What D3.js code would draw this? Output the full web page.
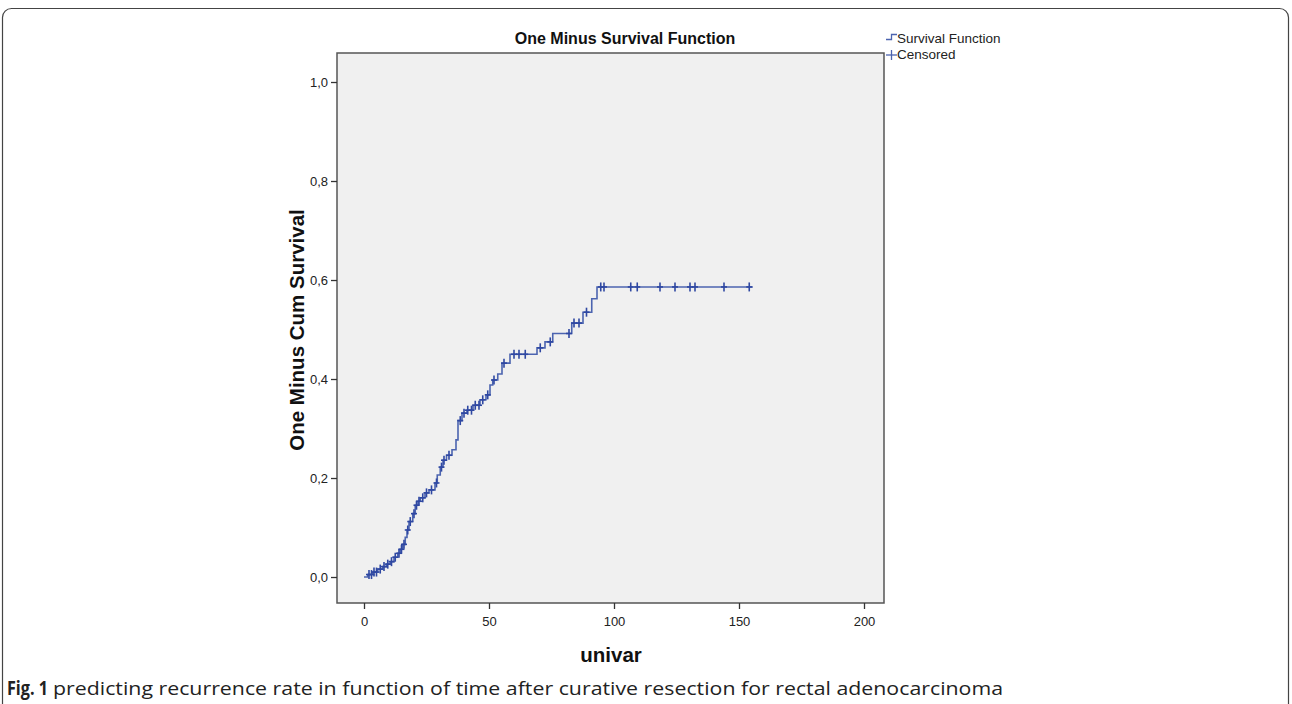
<!DOCTYPE html>
<html><head><meta charset="utf-8">
<script src="https://cdn.jsdelivr.net/npm/d3@7"></script>
<style>
body{margin:0;background:#fff;}
svg{display:block;}
</style></head>
<body>
<svg id="c" width="1292" height="704"></svg>
<script>
// ---- data ----
const stepTimes  = [0,1.5,3.5,5.5,7.5,9,10.5,12,13.5,14.5,15.5,16.5,17.2,18,19.5,20.5,21.6,22.5,24.4,26,28.4,29.3,30.5,31.6,33,35.2,36.8,37.6,39.2,41.2,43.6,46.4,48.8,50.4,51.5,53.5,55.2,58.4,69.2,72.4,75.5,83.1,87.6,91.1,93.2];
const stepValues = [0,0.005,0.010,0.016,0.021,0.026,0.031,0.040,0.048,0.056,0.066,0.080,0.095,0.112,0.128,0.145,0.153,0.160,0.170,0.176,0.190,0.206,0.222,0.236,0.246,0.257,0.277,0.316,0.331,0.337,0.347,0.358,0.368,0.388,0.398,0.410,0.432,0.450,0.463,0.475,0.492,0.513,0.535,0.562,0.586];
const lastTime = 155.5;
const censorTimes = [2,3,4,5,6.5,8,9.5,11,12.5,14,15,16,17.5,18.5,20,21,22,23.5,25,27,29,31,32,34,38.5,40,41.5,43,44.5,46,47.5,49.5,52,56,60,62,64.5,70.5,74.5,82,84,86,89,94.7,96,106.7,109.3,118.4,124.4,130.4,132.4,144,154.1];
const xTicks = [0,50,100,150,200];
const yTicks = [0,0.2,0.4,0.6,0.8,1.0];
const titleText = "One Minus Survival Function";
const xTitle = "univar";
const yTitle = "One Minus Cum Survival";
const legendLabels = ["Survival Function","Censored"];
const captionBold = "Fig. 1";
const captionText = "predicting recurrence rate in function of time after curative resection for rectal adenocarcinoma";

const svg = d3.select("#c");
const L=337,R=884,T=53,B=603;
const x = d3.scaleLinear().domain([-10.8,208]).range([L,R]);
const y = d3.scaleLinear().domain([-0.0525,1.0586]).range([B,T]);
const lineColor = "#4c64b0", markColor = "#2f48a2";
const font = "'Liberation Sans', Arial, sans-serif";

// outer figure border
svg.append("rect").attr("x",2.5).attr("y",8.5).attr("width",1286).attr("height",720)
  .attr("rx",9).attr("fill","none").attr("stroke","#444").attr("stroke-width",1.2);

// plot area
svg.append("rect").attr("x",L).attr("y",T).attr("width",R-L).attr("height",B-T)
  .attr("fill","#f0f0f0").attr("stroke","#555").attr("stroke-width",1.5);

// axes
const fmt = d => d3.format(".1f")(d).replace(".",",");
const gy = svg.append("g").attr("transform",`translate(${L},0)`)
  .call(d3.axisLeft(y).tickValues(yTicks).tickFormat(fmt).tickSize(6).tickPadding(3));
const gx = svg.append("g").attr("transform",`translate(0,${B})`)
  .call(d3.axisBottom(x).tickValues(xTicks).tickFormat(d3.format("d")).tickSize(6).tickPadding(8));
[gx,gy].forEach(g=>{
  g.select(".domain").remove();
  g.selectAll("line").attr("stroke","#333").attr("stroke-width",1.3);
  g.selectAll("text").attr("font-family",font).attr("font-size",13).attr("fill","#222");
});

// step curve
const pts = stepTimes.map((t,i)=>[t,stepValues[i]]);
pts.push([lastTime, stepValues[stepValues.length-1]]);
svg.append("path").datum(pts)
  .attr("d", d3.line().x(d=>x(d[0])).y(d=>y(d[1])).curve(d3.curveStepAfter))
  .attr("fill","none").attr("stroke",lineColor).attr("stroke-width",1.6);

// censor marks
const bis = d3.bisector(d=>d).right;
const valAt = t => stepValues[Math.max(0,bis(stepTimes,t)-1)];
const cg = svg.append("g");
censorTimes.forEach(t=>{
  const cx=x(t), cy=y(valAt(t));
  cg.append("line").attr("x1",cx).attr("x2",cx).attr("y1",cy-4.5).attr("y2",cy+4.5)
    .attr("stroke",markColor).attr("stroke-width",1.6);
  cg.append("line").attr("x1",cx-3).attr("x2",cx+3).attr("y1",cy).attr("y2",cy)
    .attr("stroke",markColor).attr("stroke-width",1.6);
});

// titles
svg.append("text").attr("x",625).attr("y",44).attr("text-anchor","middle")
  .attr("font-family",font).attr("font-weight","bold").attr("font-size",16).attr("fill","#111").text(titleText);
svg.append("text").attr("x",611).attr("y",662).attr("text-anchor","middle")
  .attr("font-family",font).attr("font-weight","bold").attr("font-size",20.5).attr("fill","#111").text(xTitle);
svg.append("text").attr("transform",`translate(304,${(T+B)/2+2}) rotate(-90)`).attr("text-anchor","middle")
  .attr("font-family",font).attr("font-weight","bold").attr("font-size",20.5).attr("fill","#111").text(yTitle);

// legend
const lg = svg.append("g");
lg.append("path").attr("d","M886,39.5H891.5V34.5H897").attr("fill","none").attr("stroke",lineColor).attr("stroke-width",1.3);
lg.append("line").attr("x1",886).attr("x2",897).attr("y1",55).attr("y2",55).attr("stroke",lineColor).attr("stroke-width",1.3);
lg.append("line").attr("x1",891.5).attr("x2",891.5).attr("y1",50).attr("y2",60).attr("stroke",lineColor).attr("stroke-width",1.3);
legendLabels.forEach((s,i)=>{
  lg.append("text").attr("x",897).attr("y",43+i*16).attr("font-family",font).attr("font-size",13.5)
    .attr("fill","#222").text(s);
});

// caption
const cap = svg.append("g").attr("font-family","'Open Sans',sans-serif").attr("font-size",19).attr("fill","#222");
cap.append("text").attr("x",7).attr("y",695).attr("font-weight","bold")
  .attr("textLength",41).attr("lengthAdjust","spacingAndGlyphs").text(captionBold);
cap.append("text").attr("x",53).attr("y",695)
  .attr("textLength",950).attr("lengthAdjust","spacingAndGlyphs").text(captionText);
</script>
</body></html>
